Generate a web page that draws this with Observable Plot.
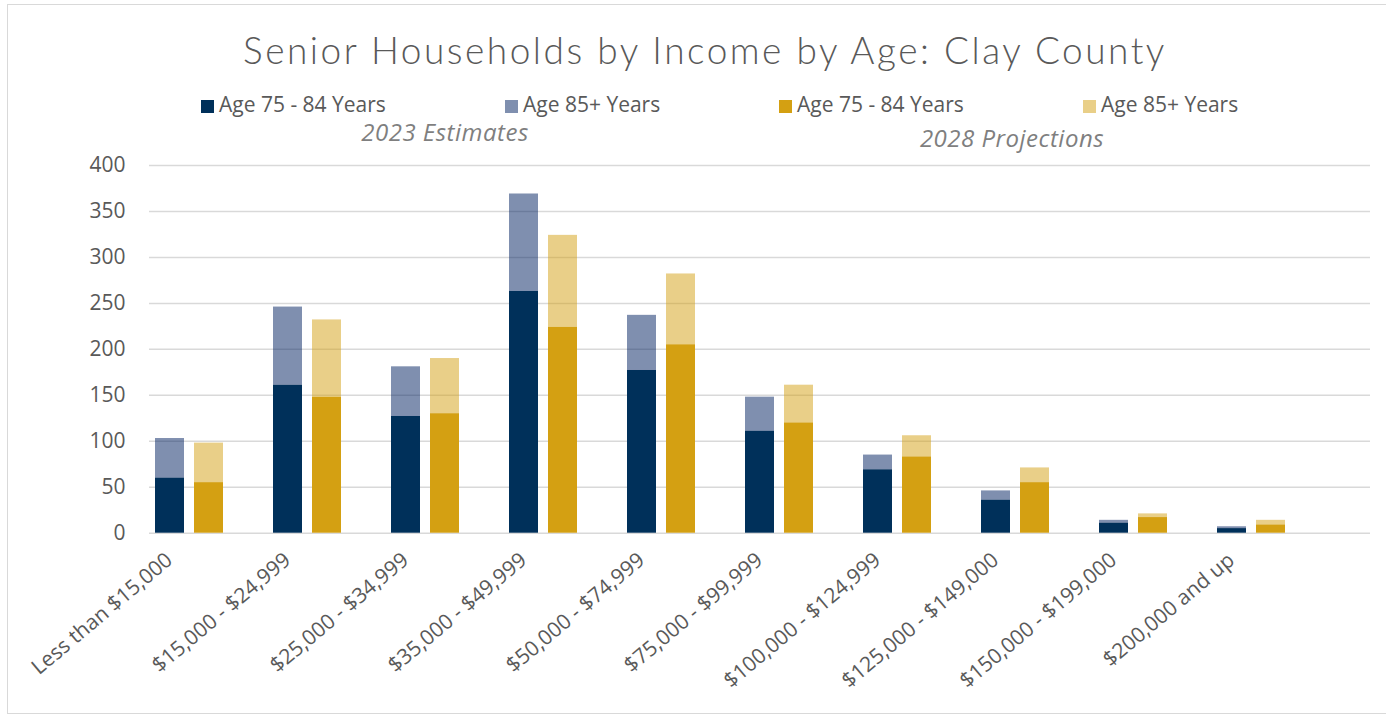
<!DOCTYPE html>
<html>
<head>
<meta charset="utf-8">
<script src="https://cdn.jsdelivr.net/npm/d3@7"></script>
<script src="https://cdn.jsdelivr.net/npm/@observablehq/plot@0.6"></script>
<style>
  html, body { margin: 0; padding: 0; background: #fff; }
  #wrap { position: relative; width: 1386px; height: 717px; overflow: hidden; font-family: "Open Sans", sans-serif; }
  #border { position: absolute; left: 7px; top: 4px; width: 1400px; height: 710px; border: 1.5px solid #d9d9d9; box-sizing: border-box; }
  .abs { position: absolute; white-space: nowrap; line-height: 1; }
  #title { left: 12px; width: 1386px; top: 31px; text-align: center; font-family: "Lato", sans-serif; font-weight: 300; font-size: 37px; letter-spacing: 2.5px; color: #595959; }
  .leg { font-size: 21px; color: #595959; top: 94px; }
  .sw { display: inline-block; width: 13px; height: 13px; margin-right: 5px; vertical-align: -1px; }
  .sub { font-size: 24px; letter-spacing: 0.5px; font-style: italic; color: #7f7f7f; }
  #chart { position: absolute; left: 0; top: 140px; }
</style>
</head>
<body>
<div id="wrap">
  <div id="border"></div>
  <div id="title" class="abs"></div>
  <div id="legend"></div>
  <div id="chart"></div>
</div>
<script>
const titleText = "Senior Households by Income by Age: Clay County";
const categories = [
  "Less than $15,000", "$15,000 - $24,999", "$25,000 - $34,999", "$35,000 - $49,999",
  "$50,000 - $74,999", "$75,000 - $99,999", "$100,000 - $124,999", "$125,000 - $149,000",
  "$150,000 - $199,000", "$200,000 and up"
];
const seriesNames = ["Age 75 - 84 Years", "Age 85+ Years", "Age 75 - 84 Years", "Age 85+ Years"];
const groupNames = ["2023 Estimates", "2028 Projections"];
// 2023 Estimates
const est7584 = [60, 161, 127, 263, 177, 111, 69, 36, 11, 5];
const est85   = [43, 85, 54, 106, 60, 37, 16, 10, 3, 2];
// 2028 Projections
const proj7584 = [55, 148, 130, 224, 205, 120, 83, 55, 17, 9];
const proj85   = [43, 84, 60, 100, 77, 41, 23, 16, 4, 5];
const yTicks = [0, 50, 100, 150, 200, 250, 300, 350, 400];

const colors = ["#00305A", "#002060", "#D4A012", "#D4A012"];
const opac = [1, 0.5, 1, 0.5];
const swatch = ["#00305A", "#7F8FAF", "#D4A012", "#E9CF88"];

document.getElementById("title").textContent = titleText;

// legend
const legend = document.getElementById("legend");
const legX = [201, 505, 779, 1083];
seriesNames.forEach((n, i) => {
  const d = document.createElement("div");
  d.className = "abs leg";
  d.style.left = legX[i] + "px";
  d.innerHTML = `<span class="sw" style="background:${swatch[i]}"></span>`;
  d.appendChild(document.createTextNode(n));
  legend.appendChild(d);
});
const subPos = [[445, 120], [1012, 126]];
groupNames.forEach((g, i) => {
  const d = document.createElement("div");
  d.className = "abs sub";
  d.style.left = (subPos[i][0] - 200) + "px";
  d.style.width = "400px";
  d.style.textAlign = "center";
  d.style.top = subPos[i][1] + "px";
  d.textContent = g;
  legend.appendChild(d);
});

const rows23 = categories.flatMap((c, i) => [
  {cat: c, s: 0, v: est7584[i]},
  {cat: c, s: 1, v: est85[i]}
]);
const rows28 = categories.flatMap((c, i) => [
  {cat: c, s: 2, v: proj7584[i]},
  {cat: c, s: 3, v: proj85[i]}
]);

const chart = Plot.plot({
  width: 1386,
  height: 577,
  marginTop: 25,
  marginBottom: 184.3,
  marginLeft: 149,
  marginRight: 16,
  style: {fontFamily: "Open Sans", fontSize: "21px", color: "#595959", background: "transparent"},
  x: {type: "band", domain: categories, range: [129.5, 1309.5], padding: 0},
  y: {domain: [0, 400]},
  marks: [
    Plot.ruleY(yTicks, {stroke: "#d9d9d9", strokeWidth: 1.5}),
    Plot.barY(rows23, {x: "cat", y: "v", z: "s", fill: d => colors[d.s], fillOpacity: d => opac[d.s], insetLeft: 25, insetRight: 64}),
    Plot.barY(rows28, {x: "cat", y: "v", z: "s", fill: d => colors[d.s], fillOpacity: d => opac[d.s], insetLeft: 64, insetRight: 25}),
    Plot.axisY(yTicks, {tickSize: 0, tickPadding: 24, label: null, fontSize: 21}),
    Plot.axisX({tickSize: 0, tickRotate: -40, tickPadding: 24, dx: -20, label: null, fontSize: 21})
  ]
});
document.getElementById("chart").appendChild(chart);
</script>
</body>
</html>
